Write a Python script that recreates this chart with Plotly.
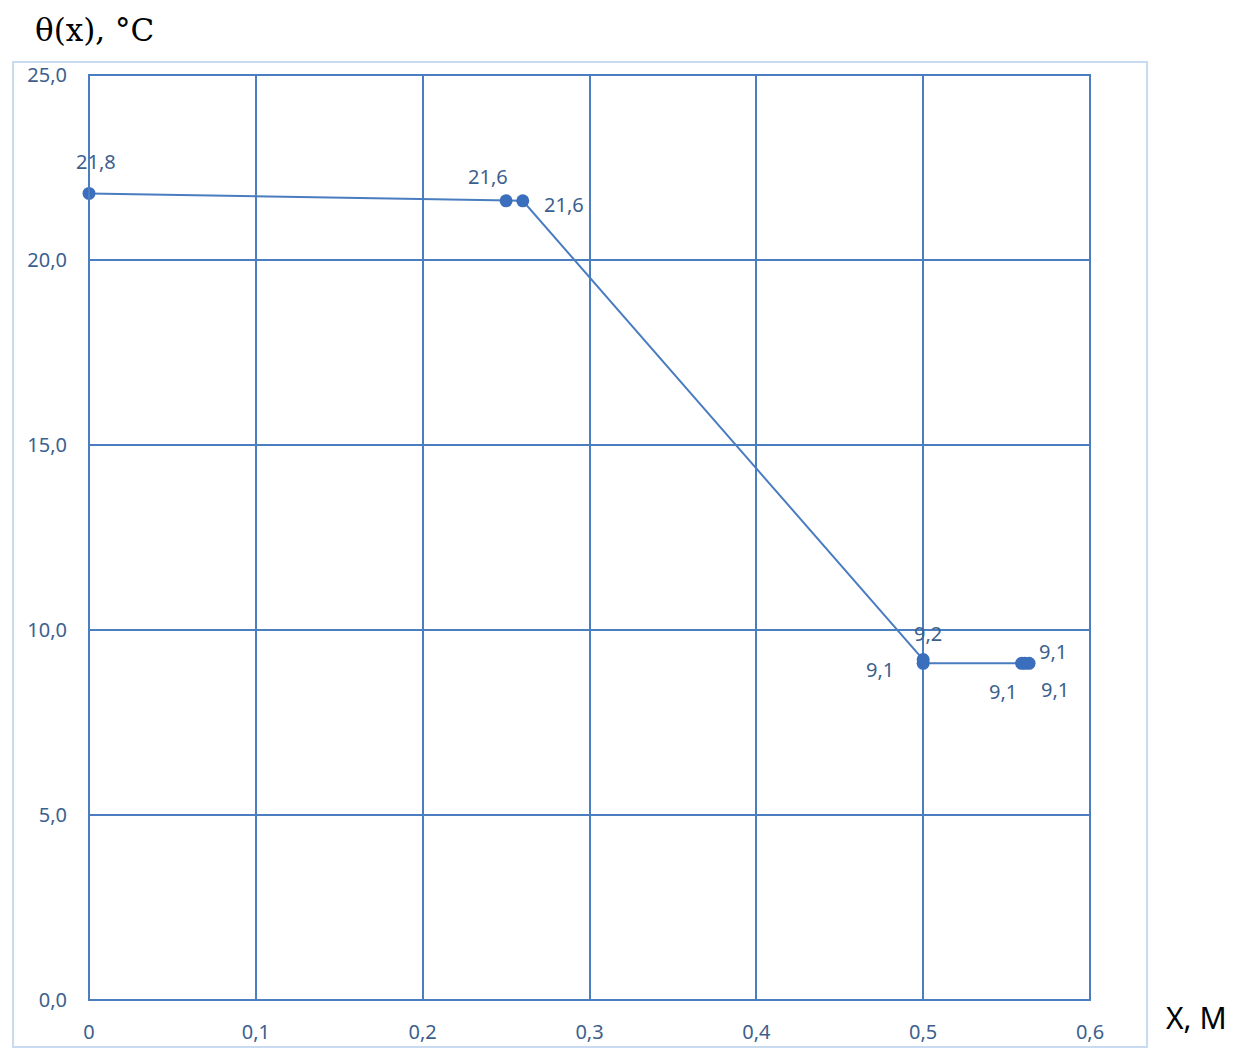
import plotly.graph_objects as go

x_vals = [0, 0.25, 0.26, 0.5, 0.5, 0.559, 0.561, 0.5635]
theta = [21.8, 21.6, 21.6, 9.2, 9.1, 9.1, 9.1, 9.1]
labels = ["21,8", "21,6", "21,6", "9,2", "9,1", "9,1", "9,1", "9,1"]
# label offsets in pixels (dx right, dy up)
label_dx = [7, -18, 41, 5, -43, -19, 28, 26]
label_dy = [32, 24, -4, 26, -6, -28, 12, -26]
x_ticks = [0, 0.1, 0.2, 0.3, 0.4, 0.5, 0.6]
x_ticklabels = ["0", "0,1", "0,2", "0,3", "0,4", "0,5", "0,6"]
y_ticks = [0, 5, 10, 15, 20, 25]
y_ticklabels = ["0,0", "5,0", "10,0", "15,0", "20,0", "25,0"]

line_blue = "#4a7cc0"
grid = "#4a7ec0"
txt = "#3d5f8e"

fig = go.Figure()
fig.add_trace(go.Scatter(
    x=x_vals, y=theta, mode="lines+markers",
    line=dict(color=line_blue, width=2),
    marker=dict(color="#3b6fbd", size=13),
    showlegend=False, cliponaxis=False,
))

annotations = []
for xv, yv, t, dx, dy in zip(x_vals, theta, labels, label_dx, label_dy):
    annotations.append(dict(text=t, x=xv, y=yv, xref="x", yref="y",
                            xshift=dx, yshift=dy, showarrow=False,
                            xanchor="center", yanchor="middle",
                            font=dict(family="Noto Sans", size=20, color=txt)))

annotations += [
    dict(text="θ(x), °C", xref="paper", yref="paper", x=-0.056, y=1.027,
         xanchor="left", yanchor="bottom", showarrow=False,
         font=dict(family="DejaVu Serif", size=31, color="black")),
    dict(text="X, M", xref="paper", yref="paper", x=1.074, y=-0.019,
         xanchor="left", yanchor="middle", showarrow=False,
         font=dict(family="Noto Sans", size=30, color="black")),
]

fig.update_layout(
    width=1238, height=1040,
    margin=dict(l=81, r=156, t=67, b=48),
    paper_bgcolor="white", plot_bgcolor="white",
    xaxis=dict(range=[0, 0.6], tickvals=x_ticks, ticktext=x_ticklabels,
               showgrid=True, gridcolor=grid, gridwidth=2, zeroline=False,
               showline=False, tickfont=dict(family="Noto Sans", size=20, color=txt),
               ticks="", ticklabelstandoff=18, automargin=False),
    yaxis=dict(range=[0, 25], tickvals=y_ticks, ticktext=y_ticklabels,
               showgrid=True, gridcolor=grid, gridwidth=2, zeroline=False,
               showline=False, tickfont=dict(family="Noto Sans", size=20, color=txt),
               ticks="", ticklabelstandoff=21, automargin=False),
    shapes=[
        dict(type="rect", xref="paper", yref="paper", x0=-0.0759, x1=1.057,
             y0=-0.0508, y1=1.014, line=dict(color="#c9dbf0", width=2), layer="below"),
        dict(type="rect", xref="paper", yref="paper", x0=0, x1=1, y0=0, y1=1,
             line=dict(color=grid, width=2)),
    ],
    annotations=annotations,
)

fig.write_html("out.html")
